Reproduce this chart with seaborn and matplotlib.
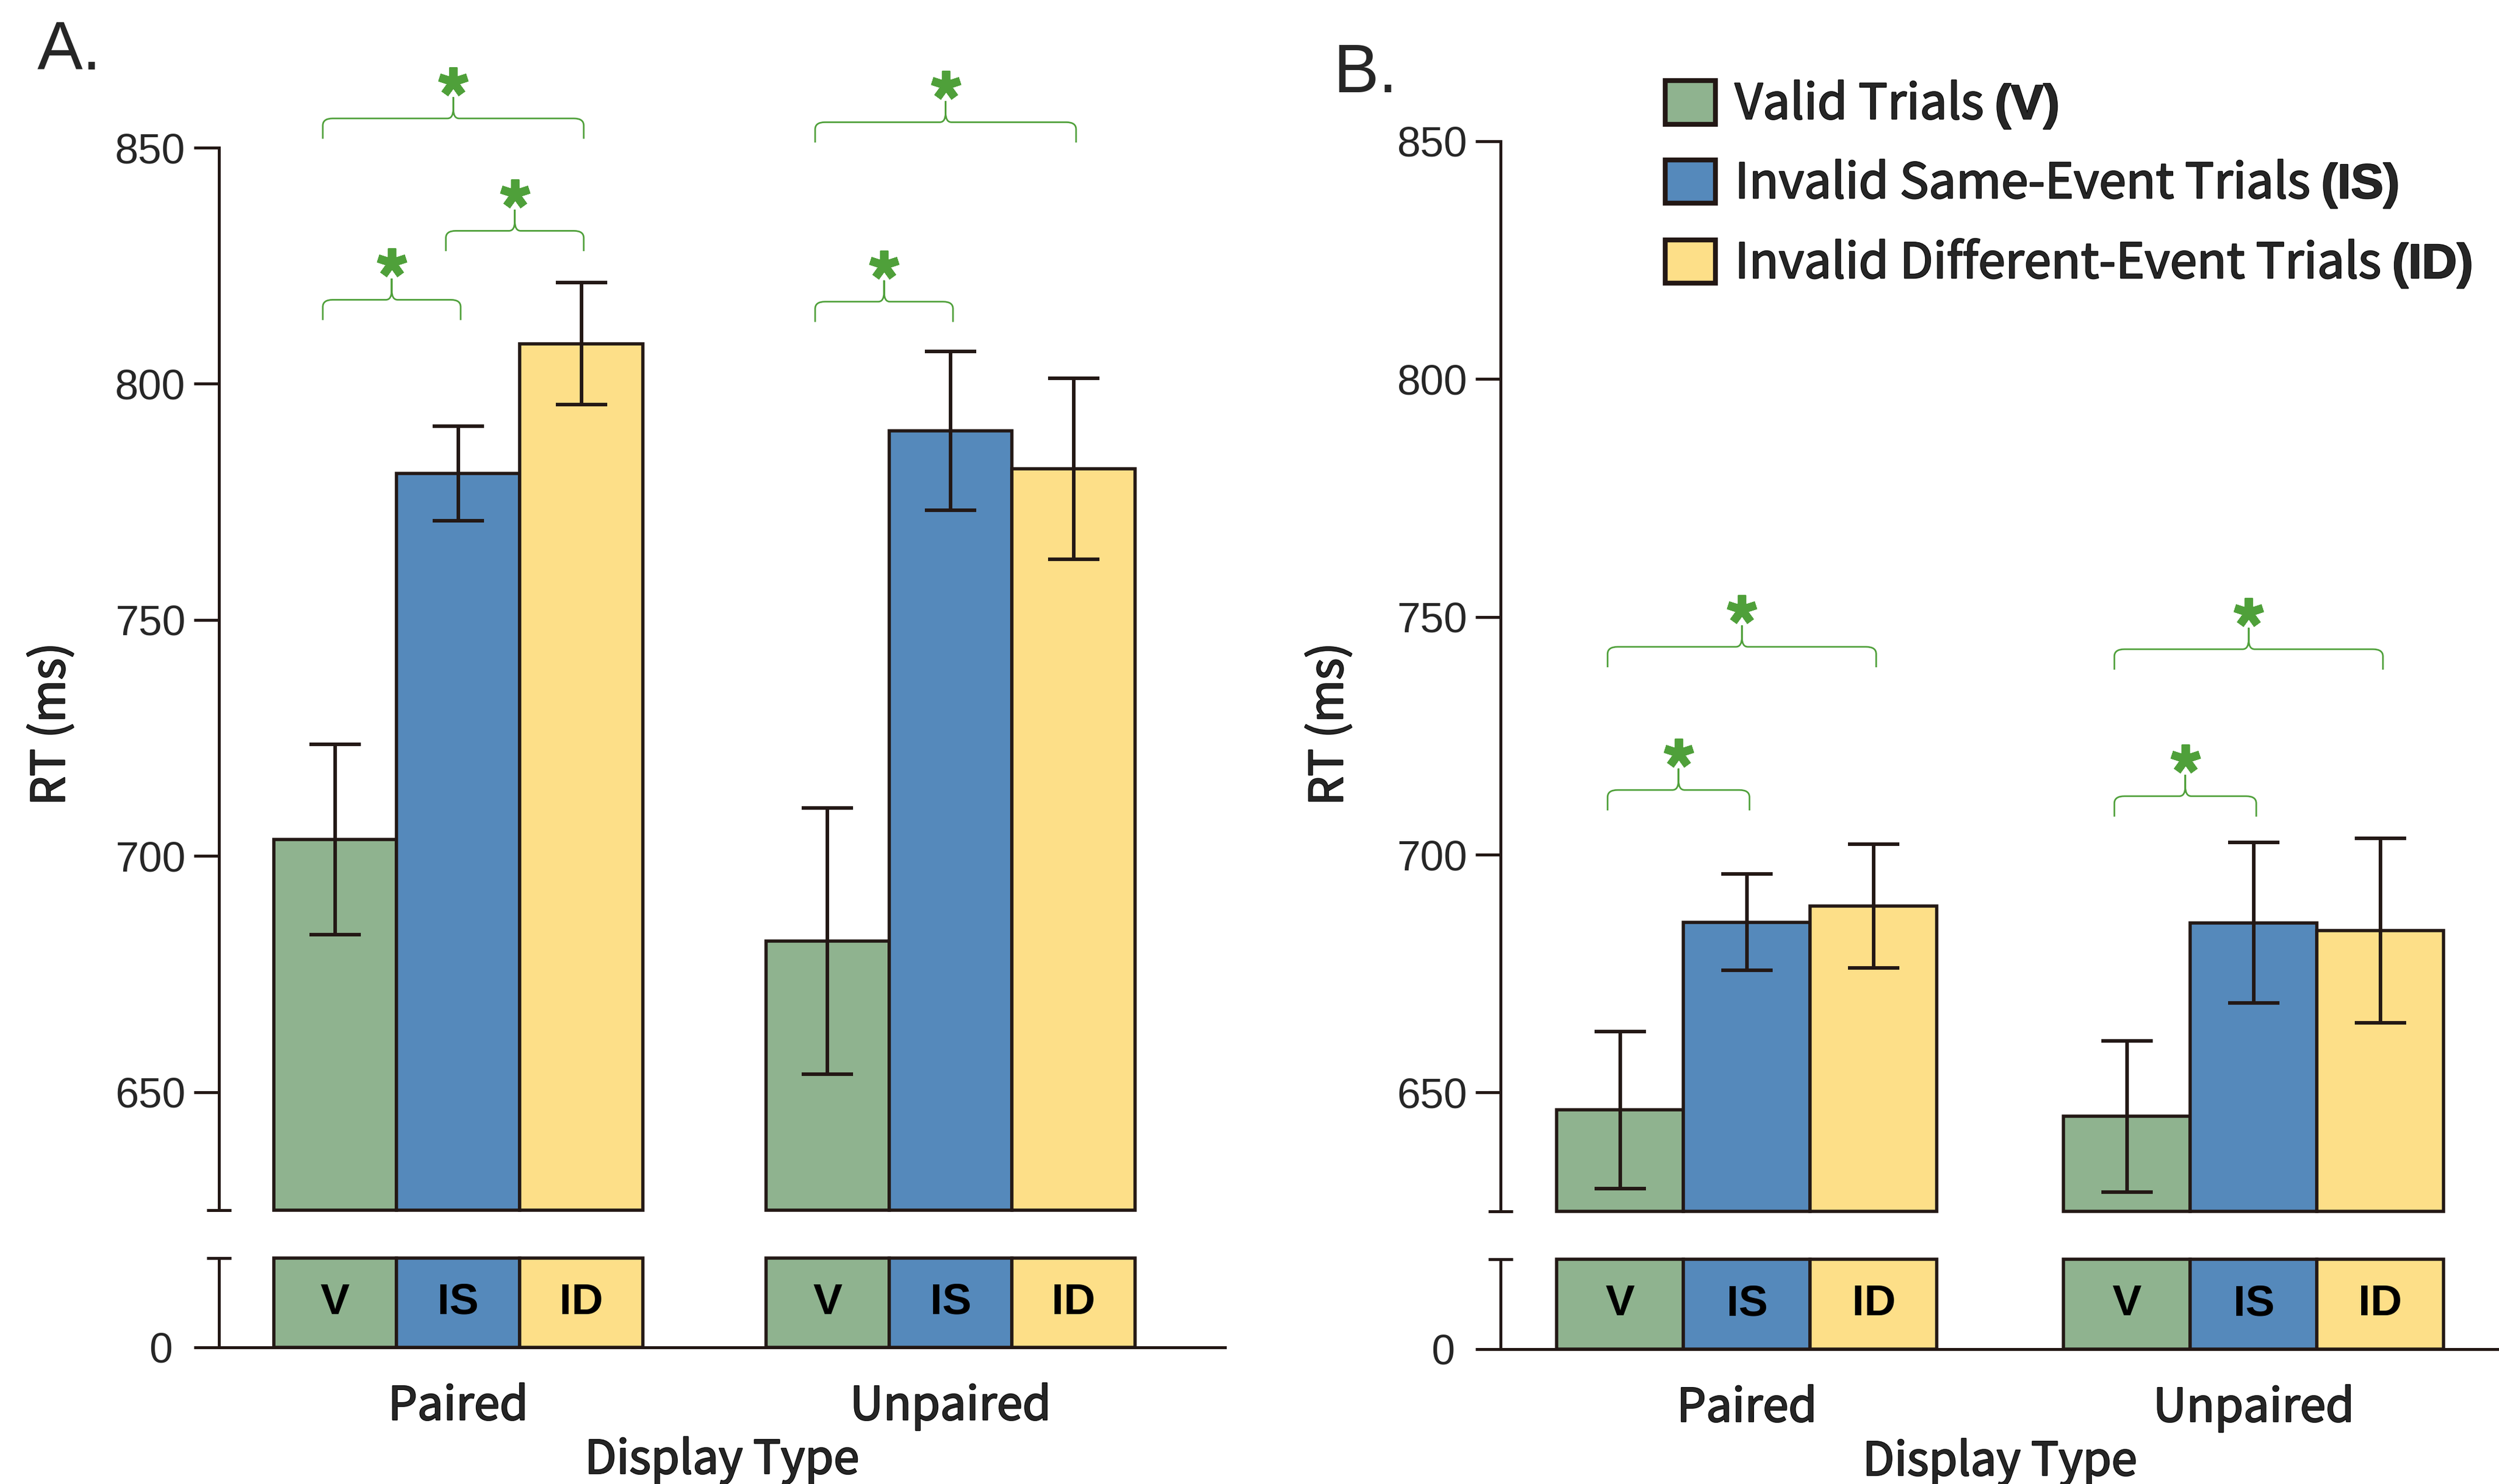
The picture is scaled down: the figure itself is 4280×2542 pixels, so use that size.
import pandas as pd
import seaborn as sns
import matplotlib.pyplot as plt
import matplotlib.patheffects as pe
from matplotlib.path import Path
from matplotlib.patches import Patch, PathPatch


# Data (mean RT in ms, error bar half-length in ms)
displays = ["Paired", "Unpaired"]
conditions = ["V", "IS", "ID"]
legend_names = ["Valid Trials", "Invalid Same-Event Trials", "Invalid Different-Event Trials"]

a_paired = [703.5, 781.0, 808.5]
a_unpaired = [682.0, 790.0, 782.0]
a_paired_err = [20.2, 10.0, 12.9]
a_unpaired_err = [28.2, 16.8, 19.2]

b_paired = [646.3, 685.8, 689.2]
b_unpaired = [645.0, 685.7, 684.0]
b_paired_err = [16.5, 10.1, 13.0]
b_unpaired_err = [15.9, 16.9, 19.4]

# significance brackets: (display, from, to, bracket height in ms)
a_sig = [("Paired", "V", "IS", 817.8), ("Paired", "IS", "ID", 832.4), ("Paired", "V", "ID", 856.2),
         ("Unpaired", "V", "IS", 817.4), ("Unpaired", "V", "ID", 855.4)]
b_sig = [("Paired", "V", "IS", 713.6), ("Paired", "V", "ID", 743.7),
         ("Unpaired", "V", "IS", 712.3), ("Unpaired", "V", "ID", 743.2)]

yticks = [650, 700, 750, 800, 850]
box_fill = [1.0, 1.0, 1.0]   # label boxes under the axis break fill the lower strip
BASE = 625                   # where the upper (broken) axis starts

palette = {"V": "#8FB38F", "IS": "#5589BB", "ID": "#FDDF88"}
EDGE = "#231815"
SIG = "#4FA03A"
# Noto Sans CJK here is only regular/bold, a thin stroke gives the medium look
MEDIUM = [pe.withStroke(linewidth=0.8, foreground="black")]


def make_df(paired, unpaired, perr, uerr):
    rows = []
    for disp, vals, errs in [("Paired", paired, perr), ("Unpaired", unpaired, uerr)]:
        for cond, v, e, b in zip(conditions, vals, errs, box_fill):
            rows.append({"display": disp, "cond": cond, "rt": v, "err": e, "box": b})
    return pd.DataFrame(rows)


sns.set_theme(style="white")
plt.rcParams["font.family"] = ["Noto Sans CJK SC", "DejaVu Sans"]
plt.rcParams["mathtext.fontset"] = "custom"
plt.rcParams["mathtext.rm"] = "Noto Sans CJK SC"
plt.rcParams["mathtext.bf"] = "Liberation Sans:bold"

fig = plt.figure(figsize=(21.4, 12.71), dpi=200)


def brace(ax, x0, x1, y, drop=4.3, rise=4.5, r=0.02, ra=0.012):
    xm = (x0 + x1) / 2
    verts = [(x0, y - drop), (x0, y - drop * 0.35), (x0, y), (x0 + r, y),
             (xm - ra, y), (xm, y), (xm, y + rise * 0.45), (xm, y + rise),
             (xm, y + rise * 0.45), (xm, y), (xm + ra, y),
             (x1 - r, y), (x1, y), (x1, y - drop * 0.35), (x1, y - drop)]
    codes = [Path.MOVETO, Path.LINETO, Path.CURVE3, Path.CURVE3,
             Path.LINETO, Path.CURVE3, Path.CURVE3, Path.LINETO,
             Path.LINETO, Path.CURVE3, Path.CURVE3,
             Path.LINETO, Path.CURVE3, Path.CURVE3, Path.LINETO]
    ax.add_patch(PathPatch(Path(verts, codes), facecolor="none", edgecolor=SIG,
                           linewidth=1.0, clip_on=False, zorder=6))
    ax.plot([xm], [y + rise + 3.3], marker=(5, 2, 0), markersize=18, markeredgewidth=5,
            color=SIG, clip_on=False, zorder=6)


def draw_panel(df, sig, rect_top, rect_bot, xlim, letter, letter_xy, ylab_x):
    # upper part of the broken axis
    ax = fig.add_axes(rect_top)
    sns.barplot(data=df, x="display", y="rt", hue="cond", order=displays, hue_order=conditions,
                palette=palette, saturation=1, width=0.75, errorbar=None,
                edgecolor=EDGE, linewidth=2.0, legend=False, ax=ax)
    centers = {}
    for cond, cont in zip(conditions, ax.containers):
        for disp, bar in zip(displays, cont):
            bar.set_y(BASE)
            bar.set_height(bar.get_height() - BASE)
            centers[(disp, cond)] = bar.get_x() + bar.get_width() / 2
    xs = [centers[(d, c)] for d, c in zip(df["display"], df["cond"])]
    ax.errorbar(xs, df["rt"], yerr=df["err"], fmt="none", ecolor=EDGE, elinewidth=2.2,
                capsize=16, capthick=2.2, zorder=5)
    for disp, c0, c1, y in sig:
        brace(ax, centers[(disp, c0)] - 0.025, centers[(disp, c1)] + 0.005, y)

    ax.set_xlim(xlim)
    ax.set_ylim(BASE - 2, 870)
    for s in ["top", "right", "bottom"]:
        ax.spines[s].set_visible(False)
    ax.spines["left"].set_bounds(BASE, 850)
    ax.spines["left"].set_linewidth(1.8)
    ax.spines["left"].set_color(EDGE)
    ax.set_yticks(yticks)
    ax.set_yticklabels([str(t) for t in yticks], fontfamily="Liberation Sans", fontsize=26)
    ax.set_yticks([BASE], minor=True)
    ax.tick_params(axis="y", which="major", direction="out", length=15.5, width=1.8,
                   color=EDGE, pad=5, left=True)
    ax.tick_params(axis="y", which="minor", direction="inout", length=15, width=1.8,
                   color=EDGE, left=True)
    ax.tick_params(axis="x", bottom=False, labelbottom=False)
    ax.set_xlabel("")
    ax.set_ylabel("")

    # lower strip with the condition boxes and zero
    axb = fig.add_axes(rect_bot)
    sns.barplot(data=df, x="display", y="box", hue="cond", order=displays, hue_order=conditions,
                palette=palette, saturation=1, width=0.75, errorbar=None,
                edgecolor=EDGE, linewidth=2.0, legend=False, clip_on=False, ax=axb)
    for cond, cont in zip(conditions, axb.containers):
        for bar in cont:
            axb.text(bar.get_x() + bar.get_width() / 2, bar.get_height() / 2, cond,
                     ha="center", va="center", fontsize=27, fontweight="bold",
                     fontfamily="Liberation Sans", color="black")
    axb.set_xlim(xlim)
    axb.set_ylim(0, 1)
    axb.spines["top"].set_visible(False)
    axb.spines["right"].set_visible(False)
    for s in ["left", "bottom"]:
        axb.spines[s].set_linewidth(1.8)
        axb.spines[s].set_color(EDGE)
    axb.set_yticks([0])
    axb.set_yticklabels(["0"], fontfamily="Liberation Sans", fontsize=26)
    axb.set_yticks([1], minor=True)
    axb.tick_params(axis="y", which="major", direction="out", length=15.5, width=1.8,
                    color=EDGE, pad=13, left=True)
    axb.tick_params(axis="y", which="minor", direction="inout", length=15, width=1.8,
                    color=EDGE, left=True)
    axb.tick_params(axis="x", length=0, pad=22, labelsize=28.5)
    for lab in axb.get_xticklabels():
        lab.set_path_effects(MEDIUM)
    axb.set_ylabel("")
    axb.set_xlabel("Display Type", fontsize=28.5, labelpad=4, path_effects=MEDIUM)

    fig.text(letter_xy[0], letter_xy[1], letter, fontsize=42, fontfamily="Liberation Sans",
             ha="left", va="baseline")
    fig.text(ylab_x, 0.512, "RT (ms)", rotation=90, ha="center", va="center",
             fontsize=28.5, path_effects=MEDIUM)


df_a = make_df(a_paired, a_unpaired, a_paired_err, a_unpaired_err)
df_b = make_df(b_paired, b_unpaired, b_paired_err, b_unpaired_err)

draw_panel(df_a, a_sig, [0.0876, 0.1781, 0.4026, 0.786], [0.0876, 0.0921, 0.4026, 0.0602],
           (-0.486, 1.5575), "A.", (64 / 4280, 1 - 119 / 2542), 88 / 4280)
draw_panel(df_b, b_sig, [0.6005, 0.1773, 0.3995, 0.7916], [0.6005, 0.0909, 0.3995, 0.0606],
           (-0.486, 1.484), "B.", (2283 / 4280, 1 - 158 / 2542), 2277 / 4280)

handles = [Patch(facecolor=palette[c], edgecolor=EDGE, linewidth=3.0) for c in conditions]
labels = [f"{n} $\\mathbf{{({c})}}$" for n, c in zip(legend_names, conditions)]
leg = fig.legend(handles, labels, loc="upper left", bbox_to_anchor=(2852 / 4280, 1 - 134 / 2542),
                 frameon=False, fontsize=30, handlelength=1.03, handleheight=1.0,
                 handletextpad=0.4, labelspacing=0.56, borderpad=0, borderaxespad=0)
for t in leg.get_texts():
    t.set_path_effects(MEDIUM)

fig.savefig("out.png", dpi=200, facecolor="white")
